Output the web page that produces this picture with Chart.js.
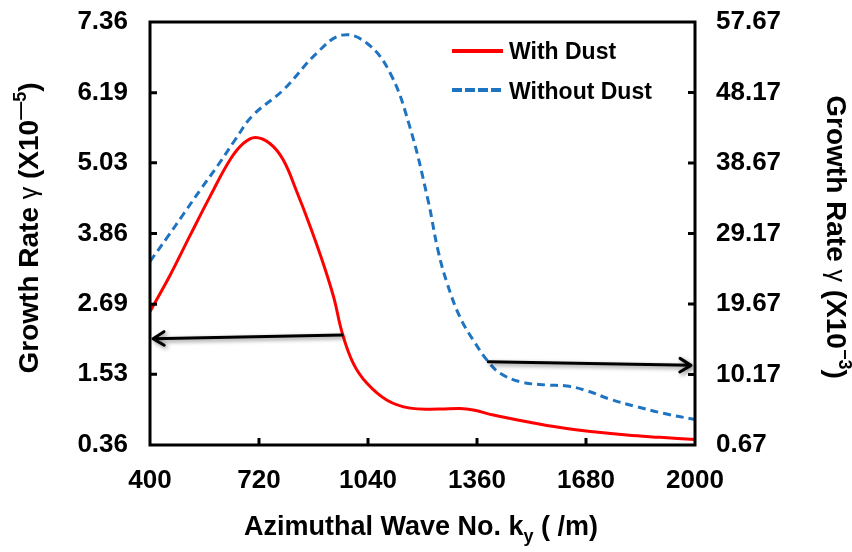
<!DOCTYPE html>
<html>
<head>
<meta charset="utf-8">
<script src="https://cdn.jsdelivr.net/npm/chart.js@4/dist/chart.umd.min.js"></script>
<style>
    html, body { margin: 0; padding: 0; background: #ffffff; }
    #grafico { display: block; }
</style>
</head>
<body>
<canvas id="grafico" width="852" height="552"></canvas>
<script>
// ============================================================
// Growth rate vs. azimuthal wave number — con y sin polvo
// ============================================================

// Eje X (k_y en /m)
const ticksX = [400, 720, 1040, 1360, 1680, 2000];
// Eje izquierdo (x10^-5) y eje derecho (x10^-3)
const ticksIzq = [0.36, 1.53, 2.69, 3.86, 5.03, 6.19, 7.36];
const ticksDer = [0.67, 10.17, 19.67, 29.17, 38.67, 48.17, 57.67];

// Serie "With Dust" (eje izquierdo)
const kConPolvo = [400, 459, 517, 576, 635, 674, 709, 752, 791, 831, 870, 910, 940, 964, 996, 1037, 1096, 1163, 1251, 1310, 1349, 1408, 1506, 1604, 1702, 1800, 1898, 2000];
const gammaConPolvo = [2.57, 3.17, 3.82, 4.47, 5.08, 5.35, 5.45, 5.35, 5.08, 4.55, 3.98, 3.34, 2.79, 2.22, 1.72, 1.38, 1.10, 0.97, 0.955, 0.965, 0.94, 0.856, 0.746, 0.65, 0.58, 0.525, 0.487, 0.45];

// Serie "Without Dust" (eje derecho)
const kSinPolvo = [400, 450, 500, 550, 600, 650, 700, 791, 890, 964, 1037, 1105, 1163, 1216, 1245, 1272, 1310, 1349, 1393, 1428, 1486, 1565, 1624, 1682, 1751, 1829, 1907, 2000];
const gammaSinPolvo = [25.4, 28.6, 31.9, 35.2, 38.4, 41.8, 45.0, 48.5, 53.5, 55.9, 54.8, 50.8, 43.5, 33.7, 27.0, 22.5, 17.9, 14.8, 11.9, 10.33, 9.2, 8.75, 8.62, 7.99, 6.83, 5.83, 4.94, 4.1];

// Flechas: [k inicio, valor inicio, k fin, valor fin]
const flechaIzq = [964, 2.18, 400, 2.12];
const flechaDer = [1393, 11.9, 2000, 11.4];

const FUENTE = "'Liberation Sans', Arial, sans-serif";
const ROJO = '#ff0000';
const AZUL = '#1f74c2';

function pares(xs, ys) {
    return xs.map((x, i) => ({ x: x, y: ys[i] }));
}

// ── Textos con sub/superíndice ───────────────────────────────
function dibujarTramos(ctx, tramos, x, y, centrado) {
    let ancho = 0;
    tramos.forEach(t => { ctx.font = t.f; ancho += ctx.measureText(t.s).width; });
    let cx = centrado ? x - ancho / 2 : x;
    tramos.forEach(t => {
        ctx.font = t.f;
        ctx.fillText(t.s, cx, y + (t.dy || 0));
        cx += ctx.measureText(t.s).width;
    });
}

function flecha(ctx, x1, y1, x2, y2) {
    const ang = Math.atan2(y2 - y1, x2 - x1);
    const l = 13;
    ctx.beginPath();
    ctx.moveTo(x1, y1);
    ctx.lineTo(x2, y2);
    ctx.moveTo(x2 - l * Math.cos(ang - 0.55), y2 - l * Math.sin(ang - 0.55));
    ctx.lineTo(x2, y2);
    ctx.lineTo(x2 - l * Math.cos(ang + 0.55), y2 - l * Math.sin(ang + 0.55));
    ctx.stroke();
}

const marco = {
    id: 'marco',
    afterDraw(chart) {
        const ctx = chart.ctx;
        const a = chart.chartArea;
        const sx = chart.scales.x, sy = chart.scales.y, sy1 = chart.scales.y1;
        ctx.save();

        // Marco del área
        ctx.strokeStyle = '#000';
        ctx.lineWidth = 3;
        ctx.strokeRect(a.left, a.top, a.right - a.left, a.bottom - a.top);

        // Marcas hacia dentro
        ctx.beginPath();
        sy.ticks.forEach(t => {
            const p = sy.getPixelForValue(t.value);
            if (p <= a.top + 2 || p >= a.bottom - 2) return;
            ctx.moveTo(a.left, p); ctx.lineTo(a.left + 7, p);
        });
        sy1.ticks.forEach(t => {
            const p = sy1.getPixelForValue(t.value);
            if (p <= a.top + 2 || p >= a.bottom - 2) return;
            ctx.moveTo(a.right, p); ctx.lineTo(a.right - 7, p);
        });
        sx.ticks.forEach(t => {
            const p = sx.getPixelForValue(t.value);
            if (p <= a.left + 2 || p >= a.right - 2) return;
            ctx.moveTo(p, a.bottom); ctx.lineTo(p, a.bottom - 7);
        });
        ctx.stroke();

        // Flechas con sombra
        ctx.save();
        ctx.shadowColor = 'rgba(0,0,0,0.45)';
        ctx.shadowBlur = 4;
        ctx.shadowOffsetX = 2;
        ctx.shadowOffsetY = 2;
        ctx.lineWidth = 3;
        ctx.lineCap = 'round';
        ctx.lineJoin = 'round';
        flecha(ctx, sx.getPixelForValue(flechaIzq[0]), sy.getPixelForValue(flechaIzq[1]),
            sx.getPixelForValue(flechaIzq[2]) + 3, sy.getPixelForValue(flechaIzq[3]));
        flecha(ctx, sx.getPixelForValue(flechaDer[0]), sy1.getPixelForValue(flechaDer[1]),
            sx.getPixelForValue(flechaDer[2]) - 4, sy1.getPixelForValue(flechaDer[3]));
        ctx.restore();

        // Leyenda dentro del gráfico
        const ds = chart.data.datasets;
        ctx.fillStyle = '#000';
        ctx.textBaseline = 'alphabetic';
        ctx.textAlign = 'left';
        ctx.font = 'bold 23px ' + FUENTE;
        ctx.lineWidth = 4;
        ctx.strokeStyle = ds[0].borderColor;
        ctx.setLineDash([]);
        ctx.beginPath(); ctx.moveTo(452, 51); ctx.lineTo(503, 51); ctx.stroke();
        ctx.fillText(ds[0].label, 509, 59);
        ctx.strokeStyle = ds[1].borderColor;
        ctx.setLineDash([10, 3]);
        ctx.beginPath(); ctx.moveTo(452, 90); ctx.lineTo(503, 90); ctx.stroke();
        ctx.setLineDash([]);
        ctx.fillText(ds[1].label, 509, 99);

        // Títulos de ejes
        const b = 'bold 28px ' + FUENTE;
        const sup = 'bold 18px ' + FUENTE;
        const gam = '25px ' + FUENTE;
        ctx.textBaseline = 'middle';
        ctx.save();
        ctx.translate(30, 228);
        ctx.rotate(-Math.PI / 2);
        dibujarTramos(ctx, [
            { s: 'Growth Rate ', f: b }, { s: 'γ', f: gam }, { s: ' (X10', f: b },
            { s: '\u2014', f: sup, dy: -9 }, { s: '5', f: sup, dy: -9 }, { s: ')', f: b }
        ], 0, 0, true);
        ctx.restore();

        ctx.save();
        ctx.translate(835, 237);
        ctx.rotate(Math.PI / 2);
        dibujarTramos(ctx, [
            { s: 'Growth Rate ', f: b }, { s: 'γ', f: gam }, { s: ' (X10', f: b },
            { s: '\u2212', f: sup, dy: -9 }, { s: '3', f: sup, dy: -9 }, { s: ')', f: b }
        ], 0, 0, true);
        ctx.restore();

        ctx.textBaseline = 'alphabetic';
        dibujarTramos(ctx, [
            { s: 'Azimuthal Wave No. k', f: 'bold 27px ' + FUENTE },
            { s: 'y', f: 'bold 18px ' + FUENTE, dy: 7 },
            { s: ' ( /m)', f: 'bold 27px ' + FUENTE }
        ], 421, 535, true);

        ctx.restore();
    }
};

const fuenteTicks = { family: FUENTE, size: 26, weight: 'bold' };

// Sin relleno automático de las escalas: el área queda fija en 150..695 x 22..445
function sinRelleno(s) {
    s.paddingTop = 0; s.paddingBottom = 0; s.paddingLeft = 0; s.paddingRight = 0;
}

new Chart(document.getElementById('grafico'), {
    type: 'line',
    data: {
        datasets: [
            {
                label: 'With Dust', data: pares(kConPolvo, gammaConPolvo), yAxisID: 'y',
                borderColor: ROJO, borderWidth: 3, pointRadius: 0, tension: 0.4, fill: false
            },
            {
                label: 'Without Dust', data: pares(kSinPolvo, gammaSinPolvo), yAxisID: 'y1',
                borderColor: AZUL, borderWidth: 3, borderDash: [8, 5], pointRadius: 0, tension: 0.4, fill: false
            }
        ]
    },
    options: {
        responsive: false, animation: false,
        layout: { padding: { top: 22, left: 0, right: 0, bottom: 0 } },
        plugins: { legend: { display: false }, tooltip: { enabled: false } },
        scales: {
            x: {
                type: 'linear', min: ticksX[0], max: ticksX[ticksX.length - 1],
                afterBuildTicks: s => { s.ticks = ticksX.map(v => ({ value: v })); },
                afterFit: s => { s.height = 107; sinRelleno(s); },
                ticks: { color: '#000', font: fuenteTicks, padding: 20, maxRotation: 0, autoSkip: false, callback: v => String(v) },
                grid: { display: false, drawTicks: false }, border: { display: false }
            },
            y: {
                position: 'left', min: ticksIzq[0], max: ticksIzq[ticksIzq.length - 1],
                afterBuildTicks: s => { s.ticks = ticksIzq.map(v => ({ value: v })); },
                afterFit: s => { s.width = 150; sinRelleno(s); },
                ticks: { color: '#000', font: fuenteTicks, padding: 22, autoSkip: false, callback: v => v.toFixed(2) },
                grid: { display: false, drawTicks: false }, border: { display: false }
            },
            y1: {
                position: 'right', min: ticksDer[0], max: ticksDer[ticksDer.length - 1],
                afterBuildTicks: s => { s.ticks = ticksDer.map(v => ({ value: v })); },
                afterFit: s => { s.width = 157; sinRelleno(s); },
                ticks: { color: '#000', font: fuenteTicks, padding: 21, autoSkip: false, callback: v => v.toFixed(2) },
                grid: { display: false, drawTicks: false }, border: { display: false }
            }
        }
    },
    plugins: [marco]
});
</script>
</body>
</html>
